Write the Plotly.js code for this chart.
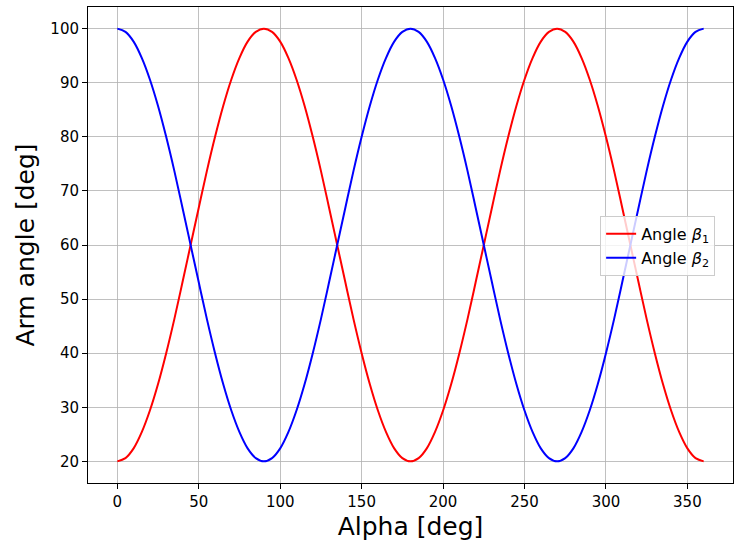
<!DOCTYPE html>
<html>
<head>
<meta charset="utf-8">
<script src="https://cdn.plot.ly/plotly-3.0.1.min.js"></script>
<style>html,body{margin:0;padding:0;background:#fff;}#chart{width:735px;height:548px;}</style>
</head>
<body>
<div id="chart"></div>
<script>
const alpha = [0,5,10,15,20,25,30,35,40,45,50,55,60,65,70,75,80,85,90,
  95,100,105,110,115,120,125,130,135,140,145,150,155,160,165,170,175,180,
  185,190,195,200,205,210,215,220,225,230,235,240,245,250,255,260,265,270,
  275,280,285,290,295,300,305,310,315,320,325,330,335,340,345,350,355,360];
const beta1 = [20,20.6,22.4,25.4,29.4,34.3,40,46.3,53.1,60,66.9,73.7,80,85.7,90.6,94.6,97.6,99.4,100,
  99.4,97.6,94.6,90.6,85.7,80,73.7,66.9,60,53.1,46.3,40,34.3,29.4,25.4,22.4,20.6,20,
  20.6,22.4,25.4,29.4,34.3,40,46.3,53.1,60,66.9,73.7,80,85.7,90.6,94.6,97.6,99.4,100,
  99.4,97.6,94.6,90.6,85.7,80,73.7,66.9,60,53.1,46.3,40,34.3,29.4,25.4,22.4,20.6,20];
const beta2 = [100,99.4,97.6,94.6,90.6,85.7,80,73.7,66.9,60,53.1,46.3,40,34.3,29.4,25.4,22.4,20.6,20,
  20.6,22.4,25.4,29.4,34.3,40,46.3,53.1,60,66.9,73.7,80,85.7,90.6,94.6,97.6,99.4,100,
  99.4,97.6,94.6,90.6,85.7,80,73.7,66.9,60,53.1,46.3,40,34.3,29.4,25.4,22.4,20.6,20,
  20.6,22.4,25.4,29.4,34.3,40,46.3,53.1,60,66.9,73.7,80,85.7,90.6,94.6,97.6,99.4,100];
const xTicks = [0,50,100,150,200,250,300,350];
const yTicks = [20,30,40,50,60,70,80,90,100];
const seriesNames = ['Angle <i>β</i><sub>1</sub>', 'Angle <i>β</i><sub>2</sub>'];

const traces = [
  {x: alpha, y: beta1, name: seriesNames[0], mode: 'lines', line: {color: 'red', width: 2, shape: 'spline'}},
  {x: alpha, y: beta2, name: seriesNames[1], mode: 'lines', line: {color: 'blue', width: 2, shape: 'spline'}}
];
const axisCommon = {
  showline: true, linecolor: '#000', linewidth: 1, mirror: true,
  ticks: 'outside', ticklen: 5, tickwidth: 1, tickcolor: '#000',
  showgrid: true, gridcolor: '#b0b0b0', gridwidth: 0.8, zeroline: false,
  tickfont: {family: 'DejaVu Sans', size: 15, color: '#000'}
};
const layout = {
  width: 735, height: 548,
  margin: {l: 88, r: 2, t: 7, b: 65},
  paper_bgcolor: '#fff', plot_bgcolor: '#fff',
  font: {family: 'DejaVu Sans', color: '#000'},
  xaxis: Object.assign({}, axisCommon, {range: [-18, 378], tickvals: xTicks,
    title: {text: 'Alpha [deg]', font: {size: 25}, standoff: 7}}),
  yaxis: Object.assign({}, axisCommon, {range: [16, 104], tickvals: yTicks,
    title: {text: 'Arm angle [deg]', font: {size: 25}, standoff: 8}}),
  showlegend: true,
  legend: {x: 0.794, y: 0.561, xanchor: 'left', yanchor: 'top',
    bgcolor: 'rgba(255,255,255,0.8)', bordercolor: '#cccccc', borderwidth: 1,
    font: {family: 'DejaVu Sans', size: 16}, tracegroupgap: 0}
};
Plotly.newPlot('chart', traces, layout, {displayModeBar: false, staticPlot: true});
</script>
</body>
</html>
